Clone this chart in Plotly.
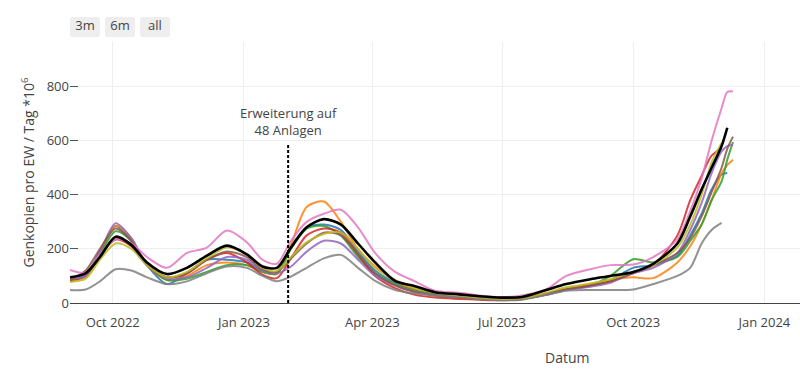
import plotly.graph_objects as go

dates = ["2022-09-01","2022-09-12","2022-09-22","2022-10-03","2022-10-14","2022-10-25","2022-11-08","2022-11-22",
         "2022-12-06","2022-12-20","2023-01-03","2023-01-14","2023-01-24","2023-02-03","2023-02-14","2023-02-26",
         "2023-03-10","2023-03-22","2023-04-03","2023-04-17","2023-05-01","2023-05-15","2023-06-01","2023-06-15",
         "2023-07-01","2023-07-15","2023-08-01","2023-08-15","2023-09-01","2023-09-15","2023-10-01","2023-10-15",
         "2023-11-01","2023-11-10","2023-11-18","2023-11-25","2023-12-02","2023-12-06","2023-12-10"]

blue   = [90,105,190,285,230,140,70,110,160,160,150,120,115,210,280,290,270,190,120,75,50,35,25,18,12,15,30,50,65,85,130,140,175,250,330,420,475,481,None]
orange = [80,95,180,285,240,140,85,100,140,150,140,115,108,215,355,375,300,200,135,80,50,35,28,20,15,18,35,55,70,85,95,92,150,210,290,380,480,510,530]
green  = [85,100,180,265,230,140,85,90,115,140,140,115,108,200,275,285,250,170,110,70,45,32,25,18,12,15,32,50,65,100,162,150,170,230,290,380,450,530,595]
red    = [85,100,175,235,210,140,95,110,160,185,150,105,92,165,250,275,260,180,100,55,30,20,15,12,10,15,35,50,65,80,110,140,250,380,470,545,572,None,None]
purple = [90,100,190,295,240,140,90,95,130,170,160,120,110,135,190,230,220,160,100,65,42,30,22,16,12,15,30,48,60,75,110,130,185,270,370,480,560,580,585]
brown  = [85,120,200,275,230,140,95,110,160,190,170,125,115,165,220,260,250,180,110,65,40,28,20,15,12,15,32,50,65,80,112,140,185,240,320,410,500,570,615]
pink   = [122,112,180,235,220,170,130,185,205,268,225,160,145,230,300,330,345,280,185,115,80,45,38,28,22,28,50,100,125,140,142,170,235,340,460,600,720,780,782]
gray   = [48,50,80,125,120,95,70,80,110,135,130,100,80,98,130,165,178,130,82,48,35,28,22,15,10,12,30,45,48,48,50,70,100,130,220,270,296,None,None]
olive  = [78,90,160,220,200,140,95,115,165,205,180,130,118,170,225,255,260,200,130,85,55,38,28,20,15,18,38,58,72,88,115,140,205,290,400,520,592,None,None]
mean   = [95,110,170,245,215,150,107,130,175,212,180,135,130,205,280,310,290,220,150,82,62,40,32,25,20,22,48,70,88,100,115,145,220,320,420,500,580,648,None]

series = [("Anlage A", blue, "#1F77B4"), ("Anlage B", orange, "#FF7F0E"), ("Anlage C", green, "#2CA02C"),
          ("Anlage D", red, "#D62728"), ("Anlage E", purple, "#9467BD"), ("Anlage F", brown, "#8C564B"),
          ("Anlage G", pink, "#E377C2"), ("Anlage H", gray, "#7F7F7F"), ("Anlage I", olive, "#BCBD22")]

marker_date = "2023-02-01"
marker_top = 590

fig = go.Figure()
for name, vals, col in series:
    fig.add_trace(go.Scatter(x=dates, y=vals, name=name, mode="lines",
                             line=dict(color=col, width=2, shape="spline", smoothing=0.8),
                             opacity=0.85))
fig.add_trace(go.Scatter(x=dates, y=mean, name="Mittelwert", mode="lines",
                         line=dict(color="black", width=2.6, shape="spline", smoothing=0.8)))

fig.add_shape(type="line", xref="x", yref="y", x0=marker_date, x1=marker_date, y0=0, y1=marker_top,
              opacity=1, line=dict(color="black", width=2, dash="3px,2px"))
fig.add_annotation(x=marker_date, y=marker_top, xref="x", yref="y", text="Erweiterung auf<br>48 Anlagen",
                   showarrow=False, yanchor="bottom", yshift=2, font=dict(size=13, color="#444"))
fig.add_annotation(x=0.681, y=-0.21, xref="paper", yref="paper", text="Datum", showarrow=False,
                   xanchor="center", yanchor="middle", font=dict(size=14, color="#444"))

fig.update_layout(
    width=800, height=371,
    template="simple_white",
    margin=dict(l=70, r=0, t=42, b=68),
    showlegend=False,
    font=dict(family="Open Sans, verdana, arial, sans-serif", size=13, color="#444"),
    plot_bgcolor="white", paper_bgcolor="white",
    xaxis=dict(range=["2022-09-01", "2024-01-26"], showgrid=True, gridcolor="#eeeeee",
               showline=True, linecolor="#444", linewidth=1, ticks="outside", ticklen=7,
               tickcolor="rgba(0,0,0,0)", dtick="M3",
               tickformat="%b %Y", tickfont=dict(size=13),
               rangeselector=dict(buttons=[dict(count=3, label="3m", step="month", stepmode="backward"),
                                           dict(count=6, label="6m", step="month", stepmode="backward"),
                                           dict(step="all", label="all")],
                                  font=dict(size=13))),
    yaxis=dict(range=[0, 965], showgrid=True, gridcolor="#eeeeee", showline=False, ticks="inside",
               ticklen=8, tickcolor="#555", dtick=200, tickfont=dict(size=13), zeroline=False,
               title=dict(text="Genkopien pro EW / Tag *10<sup>6</sup>", font=dict(size=14), standoff=8)),
)

fig.write_html("out.html", config={"displayModeBar": False},
               post_script="document.body.style.margin='0';document.body.style.overflow='hidden';")
